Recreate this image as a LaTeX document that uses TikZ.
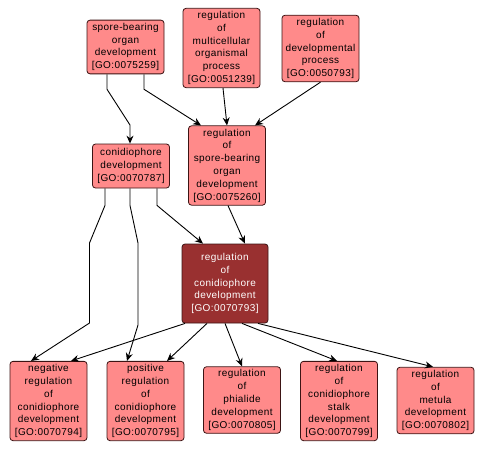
\documentclass[tikz,border=0pt]{standalone}
\usepackage{fontspec}
\setmainfont[LetterSpace=4]{Liberation Sans}
\usetikzlibrary{arrows.meta}
\definecolor{golight}{RGB}{255,138,138}
\definecolor{godark}{RGB}{153,48,48}
\definecolor{goline}{RGB}{60,20,20}
\tikzset{
  go/.style={draw=goline,line width=0.8pt,fill=golight,rounded corners=3pt,align=center,
    font=\fontsize{10}{12.8}\selectfont,inner xsep=3pt,inner ysep=3pt,
    minimum width=77pt,minimum height=44pt},
  gofocus/.style={go,fill=godark,text=white,minimum width=86pt,minimum height=79pt},
  isa/.style={-{Stealth[length=8pt,width=7pt]},black,line width=0.9pt}
}
\begin{document}
\begin{tikzpicture}[x=1pt,y=-1pt]
    \useasboundingbox (0,0) rectangle (486,451);
    % top row
    \node[go] (sbo) at (125.5,47) {spore-bearing\\organ\\development\\{[GO:0075259]}};
    \node[go] (rmop) at (221.5,48) {regulation\\of\\multicellular\\organismal\\process\\{[GO:0051239]}};
    \node[go] (rdp) at (320.5,48.5) {regulation\\of\\developmental\\process\\{[GO:0050793]}};
    % middle
    \node[go] (cd) at (131,166) {conidiophore\\development\\{[GO:0070787]}};
    \node[go] (rsbo) at (227,165.5) {regulation\\of\\spore-bearing\\organ\\development\\{[GO:0075260]}};
    \node[gofocus] (rcd) at (225,283.5) {regulation\\of\\conidiophore\\development\\{[GO:0070793]}};
    % bottom row
    \node[go] (ncd) at (48.5,401) {negative\\regulation\\of\\conidiophore\\development\\{[GO:0070794]}};
    \node[go] (pcd) at (145.5,401) {positive\\regulation\\of\\conidiophore\\development\\{[GO:0070795]}};
    \node[go] (rpd) at (242,400) {regulation\\of\\phialide\\development\\{[GO:0070805]}};
    \node[go] (rcsd) at (339,401) {regulation\\of\\conidiophore\\stalk\\development\\{[GO:0070799]}};
    \node[go] (rmd) at (435.5,400.5) {regulation\\of\\metula\\development\\{[GO:0070802]}};
    % is_a / regulates edges
    \draw[isa] ([xshift=-18.5]sbo.south) -- ++(0,15) -- (130,125) -- ([xshift=-1]cd.north);
    \draw[isa] ([xshift=18.5]sbo.south) -- ++(0,15) -- ([xshift=-26]rsbo.north);
    \draw[isa] ([xshift=1.5]rmop.south) -- (rsbo.north);
    \draw[isa] (rdp.south) -- ([xshift=28]rsbo.north);
    \draw[isa] ([xshift=26]cd.south) -- ++(0,17) -- ([xshift=-22]rcd.north);
    \draw[isa] ([xshift=1]rsbo.south) -- ([xshift=20]rcd.north);
    \draw[isa] ([xshift=-26]cd.south) -- ++(0,17) -- (89.5,243) -- (89.5,323) -- ([xshift=-17.5]ncd.north);
    \draw[isa] ([xshift=-1]cd.south) -- ++(0,17) -- (138,243) -- (138,325) -- ([xshift=-18.5]pcd.north);
    \draw[isa] ([xshift=-40]rcd.south) -- ([xshift=22.5]ncd.north);
    \draw[isa] ([xshift=-18]rcd.south) -- ([xshift=21.5]pcd.north);
    \draw[isa] (rcd.south) -- (rpd.north);
    \draw[isa] ([xshift=17]rcd.south) -- ([xshift=-2]rcsd.north);
    \draw[isa] ([xshift=33]rcd.south) -- ([xshift=-2.5]rmd.north);
\end{tikzpicture}
\end{document}
